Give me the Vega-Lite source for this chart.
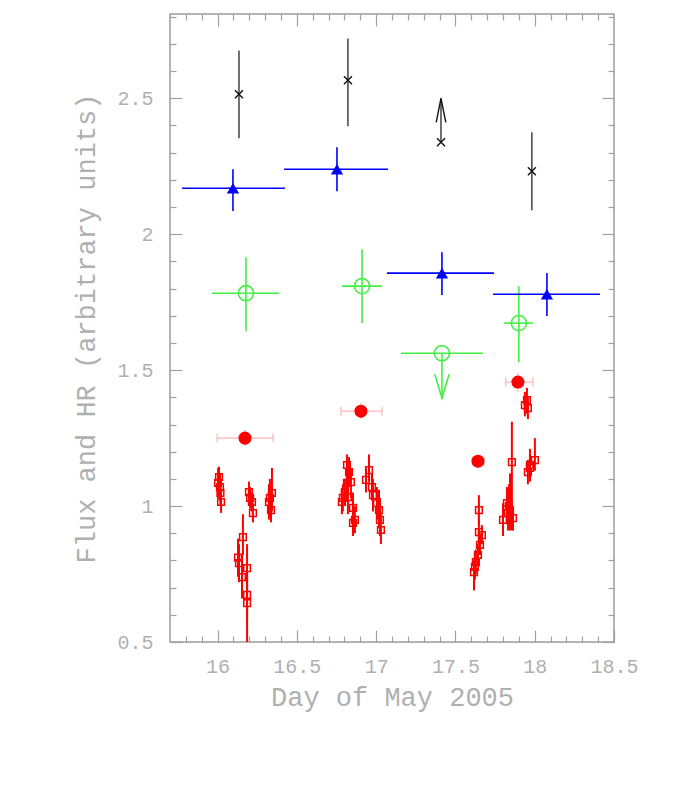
{
  "$schema": "https://vega.github.io/schema/vega-lite/v6.json",
  "width": 444,
  "height": 628,
  "autosize": {"type": "none"},
  "padding": {"left": 170, "top": 14, "right": 60, "bottom": 156},
  "background": "white",
  "config": {
    "view": {"stroke": "#9c9c9c", "strokeWidth": 1.5},
    "axis": {
      "grid": false,
      "domain": false,
      "labelFont": "Liberation Mono",
      "labelFontSize": 20,
      "labelColor": "#b0b0b0",
      "titleFont": "Liberation Mono",
      "titleFontSize": 27,
      "titleFontWeight": "normal",
      "titleColor": "#b0b0b0",
      "tickColor": "#a0a0a0",
      "tickWidth": 1.2,
      "labelFlush": false,
      "labelOverlap": false
    }
  },
  "datasets": {
    "squares": [
      {"day": 16.003, "v": 1.085, "vlo": 1.03, "vhi": 1.14},
      {"day": 16.009, "v": 1.107, "vlo": 1.06, "vhi": 1.145},
      {"day": 16.015, "v": 1.07, "vlo": 1.02, "vhi": 1.12},
      {"day": 16.018, "v": 1.048, "vlo": 1.0, "vhi": 1.1},
      {"day": 16.022, "v": 1.015, "vlo": 0.975, "vhi": 1.06},
      {"day": 16.129, "v": 0.81, "vlo": 0.74, "vhi": 0.88},
      {"day": 16.135, "v": 0.79, "vlo": 0.72, "vhi": 0.86},
      {"day": 16.154, "v": 0.739, "vlo": 0.66, "vhi": 0.82},
      {"day": 16.16, "v": 0.886, "vlo": 0.82, "vhi": 0.97},
      {"day": 16.186, "v": 0.772, "vlo": 0.7, "vhi": 0.86},
      {"day": 16.186, "v": 0.673, "vlo": 0.58, "vhi": 0.76},
      {"day": 16.186, "v": 0.643, "vlo": 0.5, "vhi": 0.74},
      {"day": 16.198, "v": 1.051, "vlo": 1.01, "vhi": 1.09},
      {"day": 16.205, "v": 1.03, "vlo": 0.99, "vhi": 1.07},
      {"day": 16.217, "v": 1.015, "vlo": 0.98, "vhi": 1.05},
      {"day": 16.223, "v": 0.974, "vlo": 0.94, "vhi": 1.01},
      {"day": 16.324, "v": 1.015, "vlo": 0.95, "vhi": 1.08},
      {"day": 16.33, "v": 1.03, "vlo": 0.96, "vhi": 1.1},
      {"day": 16.337, "v": 0.985, "vlo": 0.94, "vhi": 1.04},
      {"day": 16.343, "v": 1.048, "vlo": 0.98, "vhi": 1.14},
      {"day": 16.784, "v": 1.015, "vlo": 0.97, "vhi": 1.06},
      {"day": 16.79, "v": 1.03, "vlo": 0.98, "vhi": 1.08},
      {"day": 16.803, "v": 1.051, "vlo": 1.0, "vhi": 1.1},
      {"day": 16.816, "v": 1.085, "vlo": 1.03, "vhi": 1.14},
      {"day": 16.816, "v": 1.151, "vlo": 1.1, "vhi": 1.19},
      {"day": 16.822, "v": 1.033, "vlo": 0.97, "vhi": 1.09},
      {"day": 16.829, "v": 1.125, "vlo": 1.07, "vhi": 1.18},
      {"day": 16.841, "v": 1.088, "vlo": 1.03, "vhi": 1.14},
      {"day": 16.854, "v": 0.993, "vlo": 0.93, "vhi": 1.05},
      {"day": 16.854, "v": 0.938, "vlo": 0.89, "vhi": 0.99},
      {"day": 16.866, "v": 0.949, "vlo": 0.9, "vhi": 1.0},
      {"day": 16.936, "v": 1.096, "vlo": 1.05, "vhi": 1.14},
      {"day": 16.955, "v": 1.132, "vlo": 1.09, "vhi": 1.19},
      {"day": 16.974, "v": 1.07, "vlo": 1.02, "vhi": 1.12},
      {"day": 16.98, "v": 1.04, "vlo": 0.98, "vhi": 1.1},
      {"day": 17.005, "v": 1.011, "vlo": 0.95, "vhi": 1.07},
      {"day": 17.018, "v": 0.985, "vlo": 0.92, "vhi": 1.06},
      {"day": 17.024, "v": 0.949, "vlo": 0.89, "vhi": 1.03},
      {"day": 17.03, "v": 0.912, "vlo": 0.86, "vhi": 0.97},
      {"day": 17.617, "v": 0.757, "vlo": 0.69, "vhi": 0.8},
      {"day": 17.623, "v": 0.776, "vlo": 0.73, "vhi": 0.83},
      {"day": 17.629, "v": 0.794, "vlo": 0.75, "vhi": 0.84},
      {"day": 17.642, "v": 0.82, "vlo": 0.78, "vhi": 0.86},
      {"day": 17.648, "v": 0.904, "vlo": 0.86, "vhi": 0.95},
      {"day": 17.648, "v": 0.985, "vlo": 0.93, "vhi": 1.04},
      {"day": 17.655, "v": 0.857, "vlo": 0.82, "vhi": 0.9},
      {"day": 17.667, "v": 0.893, "vlo": 0.86, "vhi": 0.93},
      {"day": 17.8, "v": 0.949, "vlo": 0.89, "vhi": 1.01},
      {"day": 17.825, "v": 1.011, "vlo": 0.95, "vhi": 1.07},
      {"day": 17.831, "v": 0.974, "vlo": 0.91, "vhi": 1.04},
      {"day": 17.837, "v": 1.0, "vlo": 0.93, "vhi": 1.08},
      {"day": 17.844, "v": 0.978, "vlo": 0.91, "vhi": 1.12},
      {"day": 17.856, "v": 1.162, "vlo": 0.91, "vhi": 1.31},
      {"day": 17.863, "v": 0.956, "vlo": 0.91, "vhi": 1.0},
      {"day": 17.938, "v": 1.371, "vlo": 1.33, "vhi": 1.42},
      {"day": 17.951, "v": 1.39, "vlo": 1.34, "vhi": 1.435},
      {"day": 17.957, "v": 1.36, "vlo": 1.32, "vhi": 1.4},
      {"day": 17.957, "v": 1.125, "vlo": 1.08, "vhi": 1.17},
      {"day": 17.97, "v": 1.151, "vlo": 1.1, "vhi": 1.21},
      {"day": 17.97, "v": 1.14, "vlo": 1.09, "vhi": 1.19},
      {"day": 18.001, "v": 1.169, "vlo": 1.13, "vhi": 1.25}
    ],
    "dots": [
      {"day": 16.173, "v": 1.25, "dlo": 15.997, "dhi": 16.35, "vlo": 1.22, "vhi": 1.28},
      {"day": 16.904, "v": 1.349, "dlo": 16.778, "dhi": 17.037, "vlo": 1.32, "vhi": 1.38},
      {"day": 17.642, "v": 1.165, "dlo": 17.61, "dhi": 17.68, "vlo": 1.14, "vhi": 1.19},
      {"day": 17.894, "v": 1.456, "dlo": 17.818, "dhi": 17.989, "vlo": 1.42, "vhi": 1.49}
    ],
    "circles": [
      {"day": 16.179, "v": 1.783, "dlo": 15.965, "dhi": 16.387, "vlo": 1.643, "vhi": 1.915, "lim": "none"},
      {"day": 16.911, "v": 1.809, "dlo": 16.785, "dhi": 17.037, "vlo": 1.673, "vhi": 1.945, "lim": "none"},
      {"day": 17.415, "v": 1.562, "dlo": 17.157, "dhi": 17.674, "vlo": 1.397, "vhi": 1.562, "lim": "down"},
      {"day": 17.9, "v": 1.673, "dlo": 17.806, "dhi": 17.989, "vlo": 1.529, "vhi": 1.809, "lim": "none"}
    ],
    "triangles": [
      {"day": 16.097, "v": 2.169, "dlo": 15.776, "dhi": 16.425, "vlo": 2.085, "vhi": 2.239},
      {"day": 16.753, "v": 2.239, "dlo": 16.419, "dhi": 17.075, "vlo": 2.158, "vhi": 2.32},
      {"day": 17.415, "v": 1.857, "dlo": 17.068, "dhi": 17.743, "vlo": 1.776, "vhi": 1.934},
      {"day": 18.077, "v": 1.779, "dlo": 17.737, "dhi": 18.411, "vlo": 1.699, "vhi": 1.857}
    ],
    "crosses": [
      {"day": 16.135, "v": 2.515, "vlo": 2.353, "vhi": 2.676, "lim": "none"},
      {"day": 16.822, "v": 2.566, "vlo": 2.397, "vhi": 2.72, "lim": "none"},
      {"day": 17.409, "v": 2.338, "vlo": 2.338, "vhi": 2.5, "lim": "up"},
      {"day": 17.982, "v": 2.232, "vlo": 2.088, "vhi": 2.375, "lim": "none"}
    ]
  },
  "resolve": {"axis": {"x": "independent", "y": "independent"}},
  "layer": [
    {
      "data": {"name": "squares"},
      "mark": {"type": "rule", "color": "#ff0000", "strokeWidth": 2},
      "encoding": {
        "x": {"field": "day", "type": "quantitative", "scale": {"domain": [15.7, 18.5], "nice": false, "zero": false},
          "axis": {"orient": "bottom", "values": [16, 16.5, 17, 17.5, 18, 18.5], "format": "~g", "tickSize": -12, "labelPadding": 26, "title": "Day of May 2005", "titlePadding": 8}},
        "y": {"field": "vlo", "type": "quantitative", "scale": {"domain": [0.5, 2.81], "nice": false, "zero": false},
          "axis": {"orient": "left", "values": [0.5, 1, 1.5, 2, 2.5], "format": "~g", "tickSize": -12, "labelPadding": 29, "title": "Flux and HR (arbitrary units)", "titlePadding": 16}},
        "y2": {"field": "vhi"}
      }
    },
    {
      "data": {"name": "squares"},
      "mark": {"type": "point", "shape": "square", "filled": false, "color": "#ff0000", "size": 45, "strokeWidth": 1.5, "opacity": 1},
      "encoding": {
        "x": {"field": "day", "type": "quantitative", "scale": {"domain": [15.7, 18.5], "nice": false, "zero": false},
          "axis": {"orient": "bottom", "values": [15.8, 15.9, 16.1, 16.2, 16.3, 16.4, 16.6, 16.7, 16.8, 16.9, 17.1, 17.2, 17.3, 17.4, 17.6, 17.7, 17.8, 17.9, 18.1, 18.2, 18.3, 18.4], "tickSize": -6, "labels": false, "title": null}},
        "y": {"field": "v", "type": "quantitative", "scale": {"domain": [0.5, 2.81], "nice": false, "zero": false},
          "axis": {"orient": "left", "values": [0.6, 0.7, 0.8, 0.9, 1.1, 1.2, 1.3, 1.4, 1.6, 1.7, 1.8, 1.9, 2.1, 2.2, 2.3, 2.4, 2.6, 2.7, 2.8], "tickSize": -6, "labels": false, "title": null}}
      }
    },
    {
      "data": {"name": "dots"},
      "mark": {"type": "rule", "color": "#ffb3b3", "strokeWidth": 1.2},
      "encoding": {
        "x": {"field": "dlo", "type": "quantitative", "scale": {"domain": [15.7, 18.5], "nice": false, "zero": false},
          "axis": {"orient": "top", "values": [16, 16.5, 17, 17.5, 18], "tickSize": -12, "labels": false, "title": null}},
        "x2": {"field": "dhi"},
        "y": {"field": "v", "type": "quantitative", "scale": {"domain": [0.5, 2.81], "nice": false, "zero": false},
          "axis": {"orient": "right", "values": [0.5, 1, 1.5, 2, 2.5], "tickSize": -12, "labels": false, "title": null}}
      }
    },
    {
      "data": {"name": "dots"},
      "mark": {"type": "rule", "color": "#ffb3b3", "strokeWidth": 1.2},
      "encoding": {
        "x": {"field": "day", "type": "quantitative", "scale": {"domain": [15.7, 18.5], "nice": false, "zero": false},
          "axis": {"orient": "top", "values": [15.8, 15.9, 16.1, 16.2, 16.3, 16.4, 16.6, 16.7, 16.8, 16.9, 17.1, 17.2, 17.3, 17.4, 17.6, 17.7, 17.8, 17.9, 18.1, 18.2, 18.3, 18.4], "tickSize": -6, "labels": false, "title": null}},
        "y": {"field": "vlo", "type": "quantitative", "scale": {"domain": [0.5, 2.81], "nice": false, "zero": false},
          "axis": {"orient": "right", "values": [0.6, 0.7, 0.8, 0.9, 1.1, 1.2, 1.3, 1.4, 1.6, 1.7, 1.8, 1.9, 2.1, 2.2, 2.3, 2.4, 2.6, 2.7, 2.8], "tickSize": -6, "labels": false, "title": null}},
        "y2": {"field": "vhi"}
      }
    },
    {
      "data": {"name": "dots"},
      "mark": {"type": "tick", "orient": "vertical", "color": "#ffb3b3", "size": 9, "thickness": 1.2, "opacity": 1},
      "encoding": {
        "x": {"field": "dlo", "type": "quantitative", "scale": {"domain": [15.7, 18.5], "nice": false, "zero": false}, "axis": null},
        "y": {"field": "v", "type": "quantitative", "scale": {"domain": [0.5, 2.81], "nice": false, "zero": false}, "axis": null}
      }
    },
    {
      "data": {"name": "dots"},
      "mark": {"type": "tick", "orient": "vertical", "color": "#ffb3b3", "size": 9, "thickness": 1.2, "opacity": 1},
      "encoding": {
        "x": {"field": "dhi", "type": "quantitative", "scale": {"domain": [15.7, 18.5], "nice": false, "zero": false}, "axis": null},
        "y": {"field": "v", "type": "quantitative", "scale": {"domain": [0.5, 2.81], "nice": false, "zero": false}, "axis": null}
      }
    },
    {
      "data": {"name": "dots"},
      "mark": {"type": "point", "shape": "circle", "filled": true, "color": "#ff0000", "size": 170, "opacity": 1},
      "encoding": {
        "x": {"field": "day", "type": "quantitative", "scale": {"domain": [15.7, 18.5], "nice": false, "zero": false}, "axis": null},
        "y": {"field": "v", "type": "quantitative", "scale": {"domain": [0.5, 2.81], "nice": false, "zero": false}, "axis": null}
      }
    },
    {
      "data": {"name": "circles"},
      "mark": {"type": "rule", "color": "#44ee44", "strokeWidth": 1.6},
      "encoding": {
        "x": {"field": "dlo", "type": "quantitative", "scale": {"domain": [15.7, 18.5], "nice": false, "zero": false}, "axis": null},
        "x2": {"field": "dhi"},
        "y": {"field": "v", "type": "quantitative", "scale": {"domain": [0.5, 2.81], "nice": false, "zero": false}, "axis": null}
      }
    },
    {
      "data": {"name": "circles"},
      "mark": {"type": "rule", "color": "#44ee44", "strokeWidth": 1.6},
      "encoding": {
        "x": {"field": "day", "type": "quantitative", "scale": {"domain": [15.7, 18.5], "nice": false, "zero": false}, "axis": null},
        "y": {"field": "vlo", "type": "quantitative", "scale": {"domain": [0.5, 2.81], "nice": false, "zero": false}, "axis": null},
        "y2": {"field": "vhi"}
      }
    },
    {
      "data": {"name": "circles"},
      "mark": {"type": "point", "shape": "circle", "filled": false, "color": "#44ee44", "size": 230, "strokeWidth": 1.6, "opacity": 1},
      "encoding": {
        "x": {"field": "day", "type": "quantitative", "scale": {"domain": [15.7, 18.5], "nice": false, "zero": false}, "axis": null},
        "y": {"field": "v", "type": "quantitative", "scale": {"domain": [0.5, 2.81], "nice": false, "zero": false}, "axis": null}
      }
    },
    {
      "data": {"name": "circles"},
      "transform": [{"filter": "datum.lim === 'down'"}],
      "mark": {"type": "point", "shape": "M-0.3,-1L0,0L0.3,-1", "filled": false, "color": "#44ee44", "size": 2304, "strokeWidth": 1.6, "opacity": 1},
      "encoding": {
        "x": {"field": "day", "type": "quantitative", "scale": {"domain": [15.7, 18.5], "nice": false, "zero": false}, "axis": null},
        "y": {"field": "vlo", "type": "quantitative", "scale": {"domain": [0.5, 2.81], "nice": false, "zero": false}, "axis": null}
      }
    },
    {
      "data": {"name": "triangles"},
      "mark": {"type": "rule", "color": "#0000ff", "strokeWidth": 1.6},
      "encoding": {
        "x": {"field": "dlo", "type": "quantitative", "scale": {"domain": [15.7, 18.5], "nice": false, "zero": false}, "axis": null},
        "x2": {"field": "dhi"},
        "y": {"field": "v", "type": "quantitative", "scale": {"domain": [0.5, 2.81], "nice": false, "zero": false}, "axis": null}
      }
    },
    {
      "data": {"name": "triangles"},
      "mark": {"type": "rule", "color": "#0000ff", "strokeWidth": 1.6},
      "encoding": {
        "x": {"field": "day", "type": "quantitative", "scale": {"domain": [15.7, 18.5], "nice": false, "zero": false}, "axis": null},
        "y": {"field": "vlo", "type": "quantitative", "scale": {"domain": [0.5, 2.81], "nice": false, "zero": false}, "axis": null},
        "y2": {"field": "vhi"}
      }
    },
    {
      "data": {"name": "triangles"},
      "mark": {"type": "point", "shape": "triangle-up", "filled": true, "color": "#0000ff", "size": 150, "opacity": 1},
      "encoding": {
        "x": {"field": "day", "type": "quantitative", "scale": {"domain": [15.7, 18.5], "nice": false, "zero": false}, "axis": null},
        "y": {"field": "v", "type": "quantitative", "scale": {"domain": [0.5, 2.81], "nice": false, "zero": false}, "axis": null}
      }
    },
    {
      "data": {"name": "crosses"},
      "mark": {"type": "rule", "color": "#333333", "strokeWidth": 1.4},
      "encoding": {
        "x": {"field": "day", "type": "quantitative", "scale": {"domain": [15.7, 18.5], "nice": false, "zero": false}, "axis": null},
        "y": {"field": "vlo", "type": "quantitative", "scale": {"domain": [0.5, 2.81], "nice": false, "zero": false}, "axis": null},
        "y2": {"field": "vhi"}
      }
    },
    {
      "data": {"name": "crosses"},
      "mark": {"type": "point", "shape": "M-1,-1L1,1M-1,1L1,-1", "filled": false, "color": "#111111", "size": 64, "strokeWidth": 1.4, "opacity": 1},
      "encoding": {
        "x": {"field": "day", "type": "quantitative", "scale": {"domain": [15.7, 18.5], "nice": false, "zero": false}, "axis": null},
        "y": {"field": "v", "type": "quantitative", "scale": {"domain": [0.5, 2.81], "nice": false, "zero": false}, "axis": null}
      }
    },
    {
      "data": {"name": "crosses"},
      "transform": [{"filter": "datum.lim === 'up'"}],
      "mark": {"type": "point", "shape": "M-0.2,1L0,0L0.2,1", "filled": false, "color": "#111111", "size": 2304, "strokeWidth": 1.4, "opacity": 1},
      "encoding": {
        "x": {"field": "day", "type": "quantitative", "scale": {"domain": [15.7, 18.5], "nice": false, "zero": false}, "axis": null},
        "y": {"field": "vhi", "type": "quantitative", "scale": {"domain": [0.5, 2.81], "nice": false, "zero": false}, "axis": null}
      }
    }
  ]
}
